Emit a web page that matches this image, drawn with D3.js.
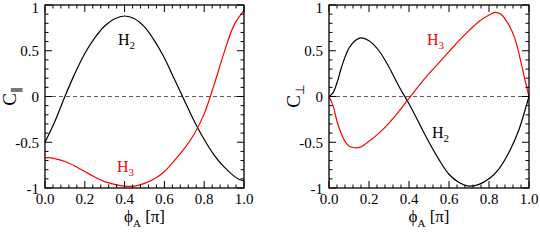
<!DOCTYPE html>
<html><head><meta charset="utf-8">
<script src="https://cdn.jsdelivr.net/npm/d3@7"></script>
<style>html,body{margin:0;padding:0;background:#fff;}svg{display:block;}</style>
</head><body>
<svg id="c" width="540" height="245"></svg>
<script>
// ---- data ----
const xTicks = [0, 0.2, 0.4, 0.6, 0.8, 1.0];
const yTicks = [-1, -0.5, 0, 0.5, 1];
const yTickLabels = ["-1", "-0.5", "0", "0.5", "1"];

const parH2x = [0,0.05,0.10,0.15,0.20,0.25,0.30,0.35,0.40,0.45,0.50,0.55,0.60,0.65,0.70,0.75,0.80,0.85,0.90,0.95,0.98,1.00];
const parH2y = [-0.50,-0.27,0.00,0.25,0.47,0.64,0.77,0.85,0.88,0.85,0.76,0.61,0.42,0.19,-0.04,-0.27,-0.47,-0.64,-0.77,-0.87,-0.91,-0.92];

const parH3x = [0,0.03,0.05,0.10,0.15,0.20,0.25,0.30,0.35,0.40,0.45,0.50,0.55,0.60,0.65,0.70,0.75,0.80,0.85,0.90,0.95,1.00];
const parH3y = [-0.67,-0.67,-0.68,-0.71,-0.76,-0.82,-0.88,-0.93,-0.96,-0.98,-0.98,-0.95,-0.90,-0.82,-0.70,-0.57,-0.41,-0.19,0.13,0.48,0.78,0.94];

const perpH2x = [0,0.02,0.04,0.06,0.08,0.10,0.13,0.16,0.20,0.25,0.30,0.35,0.40,0.45,0.50,0.55,0.60,0.65,0.70,0.75,0.80,0.85,0.90,0.95,0.98,1.00];
const perpH2y = [0,0.04,0.15,0.30,0.43,0.53,0.61,0.64,0.61,0.50,0.32,0.11,-0.08,-0.29,-0.50,-0.69,-0.85,-0.94,-0.98,-0.96,-0.90,-0.79,-0.61,-0.36,-0.15,0.00];

const perpH3x = [0,0.02,0.04,0.06,0.08,0.10,0.13,0.16,0.20,0.25,0.30,0.35,0.40,0.45,0.50,0.55,0.60,0.65,0.70,0.75,0.80,0.83,0.86,0.90,0.93,0.955,0.98,1.00];
const perpH3y = [0,-0.10,-0.27,-0.40,-0.49,-0.54,-0.56,-0.55,-0.49,-0.40,-0.29,-0.16,-0.02,0.12,0.25,0.37,0.49,0.61,0.72,0.82,0.89,0.92,0.90,0.78,0.63,0.42,0.18,0.00];

const panels = [
  {x0:45, x1:244, ylab:"∥", series:[
    {xs:parH2x, ys:parH2y, color:"#000"},
    {xs:parH3x, ys:parH3y, color:"#ff0000"}],
   labels:[{t:"H",s:"2",x:118,y:45,color:"#000"},{t:"H",s:"3",x:117,y:172,color:"#ff0000"}]},
  {x0:329, x1:529, ylab:"⊥", series:[
    {xs:perpH2x, ys:perpH2y, color:"#000"},
    {xs:perpH3x, ys:perpH3y, color:"#ff0000"}],
   labels:[{t:"H",s:"3",x:427,y:45,color:"#ff0000"},{t:"H",s:"2",x:432,y:138,color:"#000"}]}
];

const svg = d3.select("#c");
const FONT = "Liberation Serif";
const yTop = 5, yBot = 188;

panels.forEach(p => {
  const x = d3.scaleLinear().domain([0,1]).range([p.x0,p.x1]);
  const y = d3.scaleLinear().domain([-1,1]).range([yBot,yTop]);
  const g = svg.append("g");

  // zero dashed line
  g.append("line").attr("x1",x(0)).attr("x2",x(1)).attr("y1",y(0)).attr("y2",y(0))
    .attr("stroke","#333").attr("stroke-width",0.8).attr("stroke-dasharray","4,3");

  // curves
  const line = d3.line().x(d=>x(d[0])).y(d=>y(d[1])).curve(d3.curveCatmullRom.alpha(0.5));
  p.series.forEach(s => {
    g.append("path").attr("d", line(s.xs.map((v,i)=>[v,s.ys[i]])))
      .attr("fill","none").attr("stroke",s.color).attr("stroke-width",1.2);
  });

  // ticks (inward, all sides)
  const minorX = d3.range(0,1.0001,0.04);
  const minorY = d3.range(-1,1.0001,0.1);
  const tk = g.append("g").attr("stroke","#000").attr("stroke-width",1);
  minorX.forEach(v => {
    const major = xTicks.some(t=>Math.abs(t-v)<1e-6);
    const L = major ? 7 : 3.5;
    tk.append("line").attr("x1",x(v)).attr("x2",x(v)).attr("y1",yBot).attr("y2",yBot-L);
    tk.append("line").attr("x1",x(v)).attr("x2",x(v)).attr("y1",yTop).attr("y2",yTop+L);
  });
  minorY.forEach(v => {
    const major = yTicks.some(t=>Math.abs(t-v)<1e-6);
    const L = major ? 7 : 3.5;
    tk.append("line").attr("y1",y(v)).attr("y2",y(v)).attr("x1",p.x0).attr("x2",p.x0+L);
    tk.append("line").attr("y1",y(v)).attr("y2",y(v)).attr("x1",p.x1).attr("x2",p.x1-L);
  });

  // frame
  g.append("rect").attr("x",p.x0).attr("y",yTop).attr("width",p.x1-p.x0).attr("height",yBot-yTop)
    .attr("fill","none").attr("stroke","#000").attr("stroke-width",1.3);

  // tick labels
  xTicks.forEach(v => {
    g.append("text").attr("x",x(v)).attr("y",204).attr("text-anchor","middle")
      .attr("font-family",FONT).attr("font-size",15).text(d3.format(".1f")(v));
  });
  yTicks.forEach((v,i) => {
    g.append("text").attr("x",p.x0-6).attr("y",Math.max(y(v)+5.5,13)).attr("text-anchor","end")
      .attr("font-family",FONT).attr("font-size",15).text(yTickLabels[i]);
  });

  // x axis label
  const xl = g.append("text").attr("x",(p.x0+p.x1)/2).attr("y",222).attr("text-anchor","middle")
    .attr("font-family",FONT).attr("font-size",17);
  xl.append("tspan").text("ϕ");
  xl.append("tspan").attr("dy",5).attr("font-size",11).text("A");
  xl.append("tspan").attr("dy",-5).text(" [π]");

  // y axis label
  const yl = g.append("text").attr("transform",`translate(${p.x0-29},${(yTop+yBot)/2}) rotate(-90)`)
    .attr("text-anchor","middle").attr("font-family",FONT).attr("font-size",19);
  yl.append("tspan").text("C");
  yl.append("tspan").attr("dy",4).attr("font-size",12).text(p.ylab);

  // curve labels
  p.labels.forEach(l => {
    const t = svg.append("text").attr("x",l.x).attr("y",l.y).attr("font-family",FONT)
      .attr("font-size",16).attr("fill",l.color);
    t.append("tspan").text(l.t);
    t.append("tspan").attr("dy",4).attr("font-size",11).text(l.s);
  });
});
</script>
</body></html>
